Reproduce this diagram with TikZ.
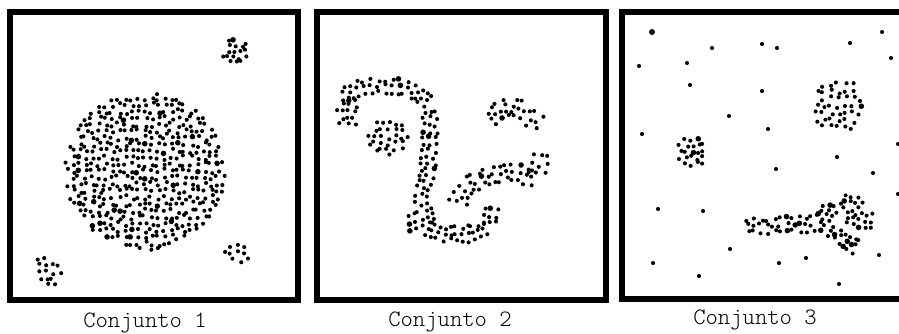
\documentclass[tikz,border=0pt]{standalone}
\begin{document}
\begin{tikzpicture}[x=1pt,y=-1pt,
  frame/.style={line width=6pt,draw=black},
  lbl/.style={font=\ttfamily\fontseries{l}\selectfont\fontsize{23.5}{26}\selectfont,inner sep=0pt,anchor=center}]
\useasboundingbox (0,0) rectangle (899,333);
\clip (0,0) rectangle (899,333);
\pgfmathsetseed{4711}
\newcommand\pdot[2]{%
  \pgfmathsetmacro\rr{(rnd<0.07)?2.8:2.05}%
  \fill (#1,#2) circle[radius=\rr pt];}
% region: cx cy rx ry spacing exponent
\newcommand\dotdisk[6]{%
  \pgfmathtruncatemacro\nx{#3/#5+1}\pgfmathtruncatemacro\mnx{-\nx}%
  \pgfmathtruncatemacro\ny{#4/#5+1}\pgfmathtruncatemacro\mny{-\ny}%
  \foreach \i in {\mnx,...,\nx}{\foreach \j in {\mny,...,\ny}{%
    \pgfmathsetmacro\px{(\i+0.75*(rnd-0.5))*#5}%
    \pgfmathsetmacro\py{(\j+0.75*(rnd-0.5))*#5}%
    \pgfmathtruncatemacro\ok{((abs(\px)/#3)^#6+(abs(\py)/#4)^#6<1)?1:0}%
    \pgfmathsetmacro\qx{#1+\px}\pgfmathsetmacro\qy{#2+\py}%
    \ifnum\ok=1 \pdot{\qx}{\qy}\fi
  }}}
% band along a segment: x1 y1 x2 y2 halfwidth spacing
\newcommand\dotseg[6]{%
  \pgfmathsetmacro\ddx{(#3)-(#1)}\pgfmathsetmacro\ddy{(#4)-(#2)}%
  \pgfmathsetmacro\LL{veclen(\ddx,\ddy)}%
  \pgfmathtruncatemacro\nn{max(1,round(\LL/#6))}%
  \pgfmathtruncatemacro\mm{round(#5/#6)}\pgfmathtruncatemacro\mmm{-\mm}%
  \pgfmathsetmacro\ux{\ddx/\LL}\pgfmathsetmacro\uy{\ddy/\LL}%
  \foreach \i in {1,...,\nn}{\foreach \j in {\mmm,...,\mm}{%
    \pgfmathsetmacro\myt{(\i-0.5+0.7*(rnd-0.5))*\LL/\nn}%
    \pgfmathsetmacro\mys{(\j+0.7*(rnd-0.5))*#6}%
    \pgfmathsetmacro\qx{(#1)+(\myt)*(\ux)-(\mys)*(\uy)}%
    \pgfmathsetmacro\qy{(#2)+(\myt)*(\uy)+(\mys)*(\ux)}%
    \pdot{\qx}{\qy}%
  }}}
% frames
\draw[frame] (10,12) rectangle (298,300);
\draw[frame] (317,12) rectangle (606,300);
\draw[frame] (622,12) rectangle (925,299);
% ---- Conjunto 1
\dotdisk{145}{171}{80}{79}{6.6}{2}
\dotdisk{235}{51}{14}{13}{6}{2}
\dotdisk{239}{252}{15}{14}{7.5}{2}
\dotdisk{46}{272}{16}{15}{7}{2}
% ---- Conjunto 2
\dotdisk{348}{112}{13}{18}{6.5}{2}
\dotseg{342}{94}{368}{86}{7}{6.5}
\dotseg{368}{86}{395}{86}{7}{6.5}
\dotseg{395}{86}{416}{92}{7}{6.5}
\dotseg{416}{92}{429}{104}{7}{6.5}
\dotseg{430}{108}{430}{135}{8}{6.5}
\dotseg{430}{135}{428}{160}{8}{6.5}
\dotseg{428}{160}{424}{185}{8}{6.5}
\dotseg{424}{185}{420}{207}{9}{6.5}
\dotseg{418}{210}{425}{228}{10}{6.5}
\dotseg{425}{228}{447}{234}{9}{6.5}
\dotseg{447}{234}{470}{234}{8}{6.5}
\dotseg{470}{234}{488}{228}{8}{6.5}
\dotseg{490}{226}{492}{205}{6}{6.5}
\dotdisk{388}{137}{20}{18}{6.5}{2}
\dotseg{457}{205}{466}{186}{5}{7}
\dotseg{466}{186}{490}{174}{5}{7}
\dotseg{490}{174}{515}{172}{4}{7}
\dotseg{515}{172}{535}{178}{5}{7}
\dotseg{537}{176}{540}{153}{5}{7}
\dotseg{490}{121}{508}{103}{5}{7}
\dotseg{508}{103}{522}{112}{5}{7}
\dotseg{522}{112}{541}{124}{5}{7}
% ---- Conjunto 3
\dotdisk{692}{152}{16}{15}{6}{2}
\dotdisk{838}{106}{24}{26}{7.2}{4}
\dotseg{745}{226}{790}{225}{6}{6.5}
\dotseg{790}{225}{822}{223}{6}{6.5}
\dotseg{818}{220}{836}{206}{7}{6.5}
\dotdisk{851}{203}{12}{10}{6}{2}
\dotseg{845}{218}{875}{221}{5}{6}
\dotseg{828}{229}{845}{239}{6}{6}
\dotseg{845}{239}{858}{248}{6}{6}
\fill (652,32) circle[radius=3pt];
\foreach \x/\y in {712/48,762/44,777/48,850/43,882/32,891/58,639/66,687/63,
  690/85,762/91,729/116,768/129,642/134,898/144,837/157,776/169,873/173,
  898/194,658/209,703/211,730/249,653/263,699/276,779/263,806/258,879/255,839/284}
  {\fill (\x,\y) circle[radius=2.05pt];}
% labels
\node[lbl] (l1) at (145,323) {Conjunto 1};
\node[lbl] (l2) at (450,322) {Conjunto 2};
\node[lbl] (l3) at (755,320) {Conjunto 3};
\end{tikzpicture}
\end{document}
